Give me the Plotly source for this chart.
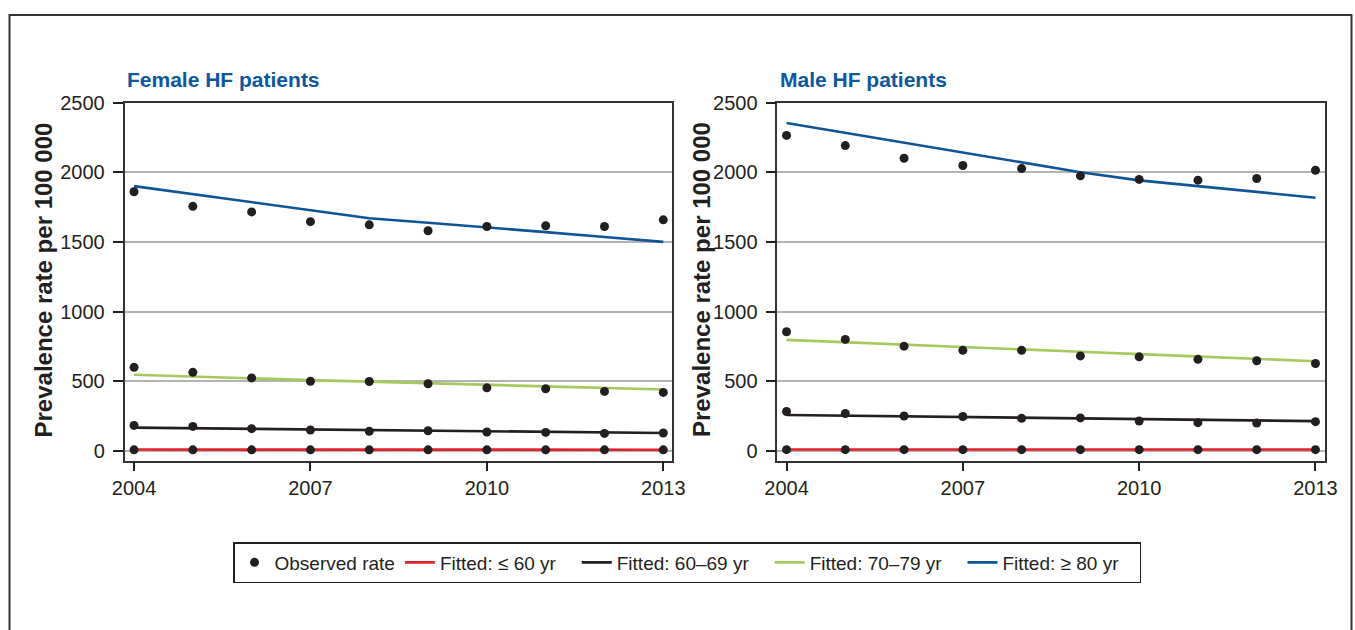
import plotly.graph_objects as go

years = [2004, 2005, 2006, 2007, 2008, 2009, 2010, 2011, 2012, 2013]
x_ticks = [2004, 2007, 2010, 2013]
y_ticks = [0, 500, 1000, 1500, 2000, 2500]

# Female HF patients
f_obs_u60 = [8, 8, 8, 8, 8, 8, 8, 8, 8, 8]
f_obs_60_69 = [183, 176, 160, 150, 141, 145, 136, 133, 126, 129]
f_obs_70_79 = [600, 564, 524, 500, 498, 482, 453, 446, 427, 420]
f_obs_80 = [1860, 1755, 1715, 1645, 1622, 1580, 1610, 1616, 1610, 1658]
f_fit_u60 = [10, 10, 10, 9, 9, 9, 9, 9, 9, 9]
f_fit_60_69 = [167, 163, 159, 155, 151, 147, 143, 138, 134, 129]
f_fit_70_79 = [547, 533, 520, 508, 497, 486, 475, 464, 452, 441]
f_fit_80 = [1900, 1842, 1785, 1728, 1670, 1637, 1605, 1570, 1535, 1500]

# Male HF patients
m_obs_u60 = [9, 9, 9, 9, 9, 9, 9, 9, 9, 9]
m_obs_60_69 = [283, 269, 251, 247, 234, 237, 215, 203, 200, 210]
m_obs_70_79 = [855, 800, 752, 722, 722, 682, 675, 657, 647, 627]
m_obs_80 = [2264, 2191, 2100, 2048, 2026, 1974, 1948, 1943, 1955, 2014]
m_fit_u60 = [10, 10, 10, 10, 10, 10, 10, 10, 10, 10]
m_fit_60_69 = [258, 253, 248, 243, 238, 233, 228, 223, 218, 214]
m_fit_70_79 = [797, 779, 762, 745, 729, 712, 695, 678, 661, 644]
m_fit_80 = [2353, 2283, 2213, 2142, 2071, 2000, 1941, 1898, 1857, 1817]

fit_names = ["Fitted: \u2264 60 yr", "Fitted: 60\u201369 yr", "Fitted: 70\u201379 yr", "Fitted: \u2265 80 yr"]
obs_name = "Observed rate"
fit_colors = ["#e5202b", "#231f20", "#a6c95c", "#0d5597"]

W, H = 1355, 630
FONT = "Liberation Sans, Arial, sans-serif"
PAD = "\u00a0\u00a0\u00a0"  # extra spacing after legend entries

fig = go.Figure()

panels = [
    ("x", "y", [f_fit_u60, f_fit_60_69, f_fit_70_79, f_fit_80],
     [f_obs_u60, f_obs_60_69, f_obs_70_79, f_obs_80]),
    ("x2", "y2", [m_fit_u60, m_fit_60_69, m_fit_70_79, m_fit_80],
     [m_obs_u60, m_obs_60_69, m_obs_70_79, m_obs_80]),
]

for pi, (xa, ya, fits, obss) in enumerate(panels):
    for i, (vals, name, col) in enumerate(zip(fits, fit_names, fit_colors)):
        fig.add_trace(go.Scatter(
            x=years, y=vals, mode="lines", name=name + PAD, xaxis=xa, yaxis=ya,
            line=dict(color=col, width=2.6), showlegend=(pi == 0),
            legendgroup=name, legendrank=2 + i, hoverinfo="skip"))
    for j, vals in enumerate(obss):
        fig.add_trace(go.Scatter(
            x=years, y=vals, mode="markers", name=obs_name, xaxis=xa, yaxis=ya,
            marker=dict(color="#231f20", size=9), showlegend=(pi == 0 and j == 0),
            legendgroup="obs", legendrank=1, hoverinfo="skip"))

axis_common = dict(showline=True, linecolor="#333333", linewidth=1.5, mirror=True,
                   ticks="outside", tickcolor="#231f20", tickwidth=2,
                   tickfont=dict(family=FONT, size=20, color="#231f20"),
                   automargin=False, zeroline=False)

xr1 = [2003.838, 2013.153]
xr2 = [2003.843, 2013.167]
yr = [-70, 2500]
ydom = [(H - 460.7) / H, (H - 102.5) / H]

fig.update_layout(
    width=W, height=H, margin=dict(l=0, r=0, t=0, b=0),
    paper_bgcolor="white", plot_bgcolor="white",
    font=dict(family=FONT, color="#231f20"),
    xaxis=dict(domain=[124.5 / W, 672.3 / W], range=xr1, tickvals=x_ticks, ticklen=9,
               showgrid=False, **axis_common),
    xaxis2=dict(domain=[777.3 / W, 1325.3 / W], range=xr2, tickvals=x_ticks, ticklen=9,
                showgrid=False, anchor="y2", **axis_common),
    yaxis=dict(domain=ydom, range=yr, tickvals=y_ticks, ticklen=10, ticklabelstandoff=4,
               showgrid=True, gridcolor="#b3b3b3", gridwidth=2, **axis_common),
    yaxis2=dict(domain=ydom, range=yr, tickvals=y_ticks, ticklen=10, anchor="x2",
                ticklabelstandoff=4,
                showgrid=True, gridcolor="#b3b3b3", gridwidth=2, **axis_common),
    showlegend=True,
    legend=dict(orientation="h", x=233 / W, y=(H - 542) / H, xanchor="left", yanchor="top",
                bordercolor="#231f20", borderwidth=1.5, bgcolor="white",
                font=dict(family=FONT, size=19, color="#231f20"),
                traceorder="normal"),
)

title_color = "#0b57a0"
for xpx, txt in [(125, "Female HF patients"), (778, "Male HF patients")]:
    fig.add_annotation(x=xpx / W, y=(H - 79) / H, xref="paper", yref="paper",
                       text="<b>%s</b>" % txt, showarrow=False, xanchor="left", yanchor="middle",
                       font=dict(family=FONT, size=21, color=title_color))

for xpx in [42.5, 701]:
    fig.add_annotation(x=xpx / W, y=(H - 280) / H, xref="paper", yref="paper",
                       text="<b>Prevalence rate per 100 000</b>", showarrow=False,
                       textangle=-90, xanchor="center", yanchor="middle",
                       font=dict(family=FONT, size=24, color="#231f20"))

fig.add_shape(type="rect", xref="paper", yref="paper",
              x0=9.5 / W, x1=1351.5 / W, y0=-0.1, y1=(H - 15) / H,
              line=dict(color="#333333", width=2), fillcolor="rgba(0,0,0,0)", layer="below")

fig.write_html("out.html", config={"displayModeBar": False},
               post_script="document.body.style.margin='0px';document.body.style.overflow='hidden';")
